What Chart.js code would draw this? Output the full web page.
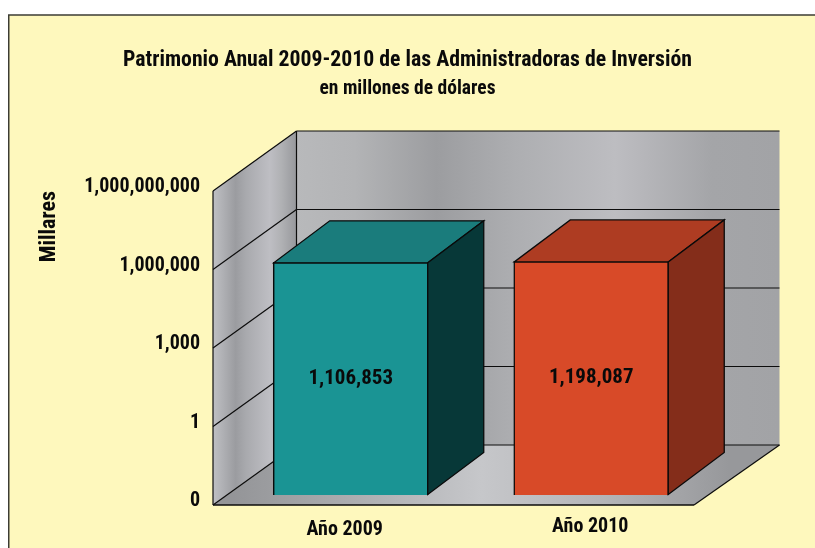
<!DOCTYPE html>
<html><head><meta charset="utf-8">
<style>html,body{margin:0;padding:0;background:#fff}canvas{display:block}</style>
<script src="https://cdn.jsdelivr.net/npm/chart.js@4/dist/chart.umd.min.js"></script>
</head><body><div style="width:815px;height:548px"><canvas id="c" width="815" height="548"></canvas></div>
<script>
const categories = ['Año 2009', 'Año 2010'];
const patrimonio = [1106853, 1198087];
const tickValues = [0.001, 1, 1000, 1000000, 1000000000];
const tickLabels = ['0', '1', '1,000', '1,000,000', '1,000,000,000'];
const frontColors = ['#1a9494', '#d84a28'];
const topColors = ['#1a7c7c', '#ae3c22'];
const sideColors = ['#073838', '#842d1a'];

const FONT = 'Roboto,"Open Sans",sans-serif';
const WEIGHT = 'bold condensed';
const WALL = {dx: 83.5, dxRight: 85.5, dy: -60};
const BAR_SHIFT = {dx: 17.5, dy: -10};
const BAR_DEPTH = {dx: 56, dy: -42};
const xLabelOffset = [{dx: -6, dy: 530}, {dx: -1, dy: 527}];

function stops(g, list) { list.forEach(([p, c]) => g.addColorStop(p, c)); return g; }
function poly(ctx, pts, fill, stroke, lw) {
  ctx.beginPath();
  pts.forEach((p, i) => i ? ctx.lineTo(p[0], p[1]) : ctx.moveTo(p[0], p[1]));
  ctx.closePath();
  if (fill) { ctx.fillStyle = fill; ctx.fill(); }
  if (stroke) { ctx.strokeStyle = stroke; ctx.lineWidth = lw; ctx.lineJoin = 'miter'; ctx.stroke(); }
}
function line(ctx, x0, y0, x1, y1, lw) {
  ctx.beginPath(); ctx.moveTo(x0, y0); ctx.lineTo(x1, y1);
  ctx.strokeStyle = '#0c0c0c'; ctx.lineWidth = lw; ctx.stroke();
}

const scene = {
  id: 'scene',
  beforeDraw(chart) {
    const ctx = chart.ctx;
    ctx.save();
    ctx.fillStyle = '#ffffff'; ctx.fillRect(0, 0, chart.width, chart.height);
    ctx.fillStyle = '#fef8bd'; ctx.fillRect(8.5, 15, chart.width, chart.height);
    ctx.strokeStyle = '#3c3c34'; ctx.lineWidth = 1.5;
    ctx.beginPath(); ctx.moveTo(8.75, chart.height); ctx.lineTo(8.75, 15); ctx.lineTo(chart.width, 15); ctx.stroke();
    ctx.restore();
  },
  beforeDatasetsDraw(chart) {
    const ctx = chart.ctx, a = chart.chartArea, y = chart.scales.y;
    const bl = a.left + WALL.dx, br = a.right + WALL.dxRight, bt = a.top + WALL.dy, bb = a.bottom + WALL.dy;
    ctx.save();
    // left wall
    let g = stops(ctx.createLinearGradient(a.left, 0, bl, 0),
      [[0, '#bfc0c4'], [0.27, '#9b9ca0'], [0.4, '#a9aaae'], [0.68, '#bebec3'], [0.82, '#b0b1b4'], [1, '#97989c']]);
    poly(ctx, [[a.left, a.top], [bl, bt], [bl, bb], [a.left, a.bottom]], g);
    // back wall
    g = stops(ctx.createLinearGradient(bl, 0, br, 0),
      [[0, '#b8b9bb'], [0.12, '#b3b4b6'], [0.29, '#9c9da0'], [0.45, '#adaeb1'], [0.66, '#bdbdc1'], [0.86, '#a4a5a8'], [1, '#a2a3a6']]);
    poly(ctx, [[bl, bt], [br, bt], [br, bb], [bl, bb]], g);
    // floor
    g = stops(ctx.createLinearGradient(a.left + 20, 0, br - 50, 0),
      [[0, '#949598'], [0.5, '#c6c7ca'], [0.75, '#b4b5b8'], [1, '#97989b']]);
    poly(ctx, [[a.left, a.bottom], [a.right, a.bottom], [br, bb], [bl, bb]], g);
    // gridlines from the axis ticks
    tickValues.forEach(v => {
      const py = y.getPixelForValue(v);
      line(ctx, a.left, py, bl, py + WALL.dy, 1.2);
      line(ctx, bl, py + WALL.dy, br, py + WALL.dy, 1.2);
    });
    line(ctx, a.left, a.top, a.left, a.bottom, 1.2);
    line(ctx, bl, bt, bl, bb, 1.2);
    line(ctx, a.left, a.bottom, a.right, a.bottom, 1.5);
    line(ctx, a.right, a.bottom, br, bb, 1.2);
    ctx.restore();
    ctx.save();
    ctx.translate(BAR_SHIFT.dx, BAR_SHIFT.dy);
  },
  afterDatasetsDraw(chart) {
    const ctx = chart.ctx;
    ctx.restore();
    ctx.save();
    chart.getDatasetMeta(0).data.forEach((e, i) => {
      const x0 = e.x - e.width / 2 + BAR_SHIFT.dx, x1 = e.x + e.width / 2 + BAR_SHIFT.dx;
      const t = e.y + BAR_SHIFT.dy, b = e.base + BAR_SHIFT.dy;
      const dx = BAR_DEPTH.dx, dy = BAR_DEPTH.dy;
      poly(ctx, [[x0 + .5, t + .5], [x1 - .5, t + .5], [x1 - .5 + dx, t + .5 + dy], [x0 + .5 + dx, t + .5 + dy]], topColors[i], '#0a0a0a', 1.3);
      poly(ctx, [[x1 - .5, t + .5], [x1 - .5 + dx, t + .5 + dy], [x1 - .5 + dx, b - .5 + dy], [x1 - .5, b - .5]], sideColors[i], '#0a0a0a', 1.3);
      ctx.fillStyle = '#0a0a0a';
      ctx.font = WEIGHT + ' 21px ' + FONT;
      ctx.textAlign = 'center'; ctx.textBaseline = 'middle';
      ctx.fillText(patrimonio[i].toLocaleString('en-US'), (x0 + x1) / 2, (t + b) / 2);
      ctx.font = WEIGHT + ' 20px ' + FONT;
      ctx.fillText(categories[i], (x0 + x1) / 2 + xLabelOffset[i].dx, xLabelOffset[i].dy);
    });
    ctx.restore();
  }
};

new Chart(document.getElementById('c'), {
  type: 'bar',
  data: {
    labels: categories,
    datasets: [{
      data: patrimonio,
      yAxisID: 'yBar',
      backgroundColor: frontColors,
      borderColor: '#0a0a0a',
      borderWidth: 1.5,
      barThickness: 155,
      clip: false
    }]
  },
  options: {
    responsive: false,
    animation: false,
    layout: {padding: 0},
    plugins: {
      legend: {display: false},
      tooltip: {enabled: false},
      title: {display: true, text: 'Patrimonio Anual 2009-2010 de las Administradoras de Inversión',
        color: '#0a0a0a', font: {family: FONT, size: 21.75, weight: WEIGHT, lineHeight: 1.2},
        padding: {top: 48, bottom: 1.9}},
      subtitle: {display: true, text: 'en millones de dólares',
        color: '#0a0a0a', font: {family: FONT, size: 19.5, weight: WEIGHT, lineHeight: 1.2},
        padding: {top: 1.2, bottom: 90.4}}
    },
    scales: {
      x: {
        grid: {display: false}, border: {display: false},
        ticks: {display: false},
        afterFit(s) { s.height = 43; }
      },
      y: {
        type: 'logarithmic', min: 0.001, max: 1000000000,
        position: 'left',
        grid: {display: false, drawTicks: false}, border: {display: false},
        afterBuildTicks(s) { s.ticks = tickValues.map(v => ({value: v})); },
        afterFit(s) { s.width = 213; },
        ticks: {
          autoSkip: false, padding: 13, labelOffset: -4,
          color: '#0a0a0a', font: {family: FONT, size: 20, weight: WEIGHT},
          callback: (v, i) => tickLabels[i]
        },
        title: {display: true, text: 'Millares', align: 'end', color: '#0a0a0a',
          font: {family: FONT, size: 22, weight: WEIGHT, lineHeight: 1.2},
          padding: {top: 36, bottom: 0}}
      },
      yBar: {
        type: 'logarithmic', position: 'right', min: 0.001, max: 1600000000,
        grid: {display: false, drawTicks: false}, border: {display: false},
        ticks: {display: false},
        afterFit(s) { s.width = 121; }
      }
    }
  },
  plugins: [scene]
});
</script></body></html>
